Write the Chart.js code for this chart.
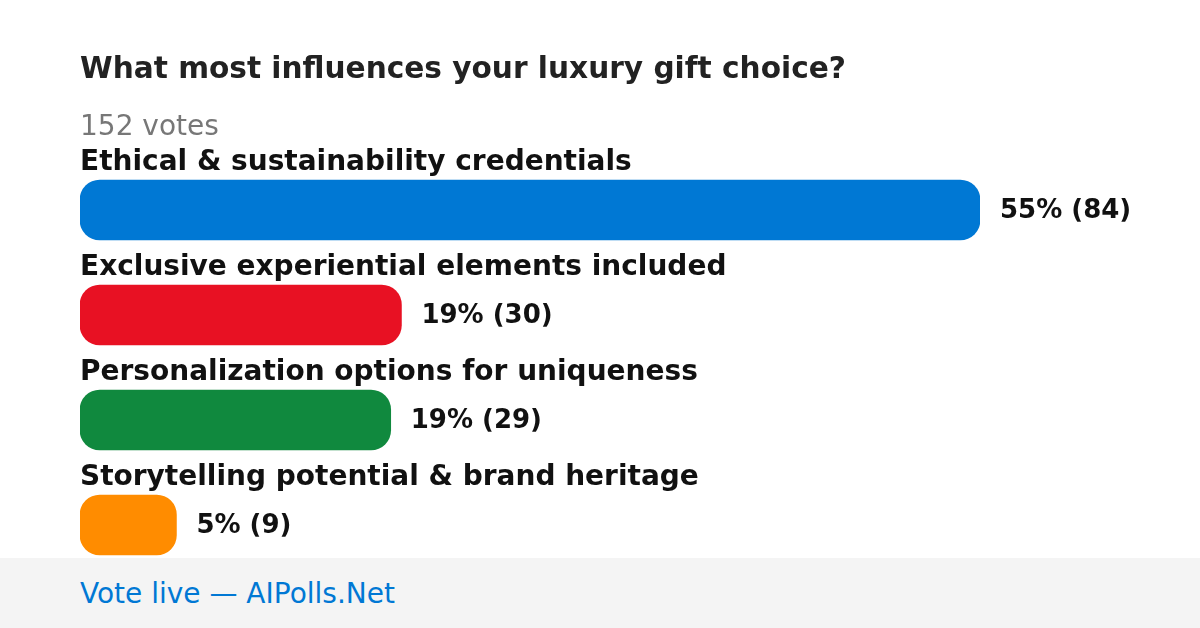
<!DOCTYPE html>
<html>
<head>
<meta charset="utf-8">
<script src="https://cdn.jsdelivr.net/npm/chart.js@4"></script>
<style>
  html, body { margin: 0; padding: 0; background: #fff; }
  body { width: 1200px; height: 628px; position: relative; overflow: hidden; font-family: "DejaVu Sans", sans-serif; }
  #wrap { position: absolute; left: 0; top: 0; width: 1200px; height: 628px; }
  .txt { position: absolute; left: 80px; white-space: nowrap; }
  #title { top: 53px; font-size: 29.6px; line-height: 30px; font-weight: bold; color: #222; }
  #votes { top: 112px; font-size: 28px; line-height: 28px; color: #777; }
  #footer { position: absolute; left: 0; top: 558px; width: 1200px; height: 70px; background: #f4f4f4; }
  #footer span { position: absolute; left: 80px; top: 22px; font-size: 28px; line-height: 28px; color: #0078d4; white-space: nowrap; }
</style>
</head>
<body>
<div id="wrap"><canvas id="poll"></canvas></div>
<div class="txt" id="title">What most influences your luxury gift choice?</div>
<div class="txt" id="votes">152 votes</div>
<div id="footer"><span>Vote live — AIPolls.Net</span></div>
<script>
// Poll data
const options = [
  "Ethical & sustainability credentials",
  "Exclusive experiential elements included",
  "Personalization options for uniqueness",
  "Storytelling potential & brand heritage",
];
const votes = [84, 30, 29, 9];
const percents = [55, 19, 19, 5];
const barColors = ["#0078d4", "#e81123", "#10893e", "#ff8c00"];

// Labels above bars and results to the right
const pollLabels = {
  id: 'pollLabels',
  afterDatasetsDraw(chart) {
    const ctx = chart.ctx;
    const meta = chart.getDatasetMeta(0);
    ctx.save();
    ctx.textBaseline = 'alphabetic';
    ctx.textAlign = 'left';
    ctx.fillStyle = '#111';
    meta.data.forEach((bar, i) => {
      const top = bar.y - bar.height / 2;
      ctx.font = 'bold 28px "DejaVu Sans", sans-serif';
      ctx.fillText(options[i], chart.chartArea.left, top - 10.5);
      ctx.font = 'bold 26px "DejaVu Sans", sans-serif';
      ctx.fillText(percents[i] + '% (' + votes[i] + ')', bar.x + 20, bar.y + 8);
    });
    ctx.restore();
  }
};

new Chart(document.getElementById('poll'), {
  type: 'bar',
  data: {
    labels: options,
    datasets: [{
      data: votes,
      backgroundColor: barColors,
      borderRadius: 20,
      borderSkipped: false,
      barThickness: 60,
    }],
  },
  options: {
    indexAxis: 'y',
    responsive: true,
    maintainAspectRatio: false,
    animation: false,
    layout: { padding: { left: 80, right: 220, top: 157.5, bottom: 50.5 } },
    plugins: { legend: { display: false }, tooltip: { enabled: false } },
    scales: {
      x: { display: false, min: 0, max: 84 },
      y: { display: false, offset: true },
    },
  },
  plugins: [pollLabels],
});
</script>
</body>
</html>
